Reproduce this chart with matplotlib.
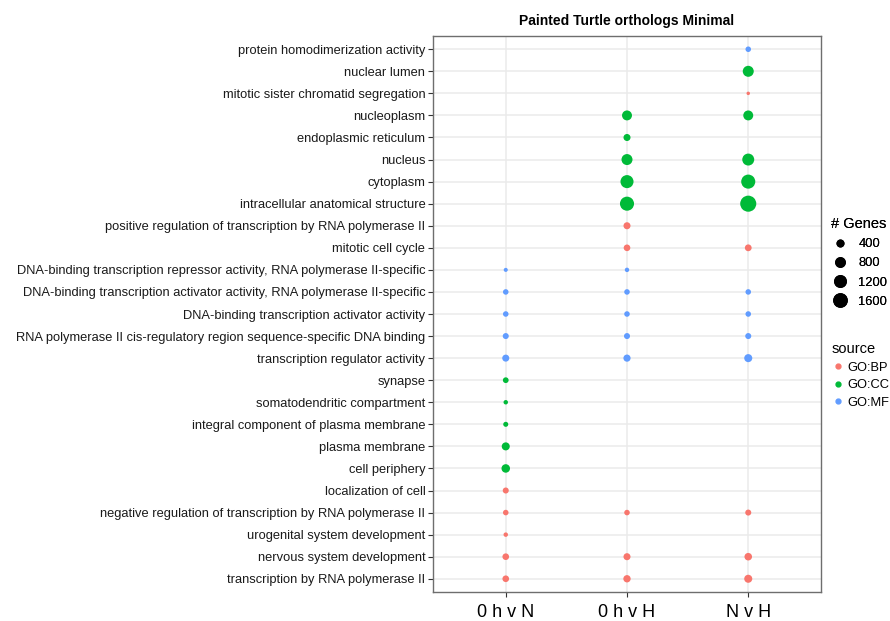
"""
GO enrichment dot plot - Painted Turtle orthologs
"""

import matplotlib.pyplot as plt
from matplotlib.lines import Line2D

plt.rcParams['font.family'] = ['Liberation Sans', 'DejaVu Sans']

# Terms, top to bottom
TERMS = [
    'protein homodimerization activity',
    'nuclear lumen',
    'mitotic sister chromatid segregation',
    'nucleoplasm',
    'endoplasmic reticulum',
    'nucleus',
    'cytoplasm',
    'intracellular anatomical structure',
    'positive regulation of transcription by RNA polymerase II',
    'mitotic cell cycle',
    'DNA-binding transcription repressor activity, RNA polymerase II-specific',
    'DNA-binding transcription activator activity, RNA polymerase II-specific',
    'DNA-binding transcription activator activity',
    'RNA polymerase II cis-regulatory region sequence-specific DNA binding',
    'transcription regulator activity',
    'synapse',
    'somatodendritic compartment',
    'integral component of plasma membrane',
    'plasma membrane',
    'cell periphery',
    'localization of cell',
    'negative regulation of transcription by RNA polymerase II',
    'urogenital system development',
    'nervous system development',
    'transcription by RNA polymerase II',
]

SOURCE = ['GO:MF', 'GO:CC', 'GO:BP', 'GO:CC', 'GO:CC', 'GO:CC', 'GO:CC', 'GO:CC',
          'GO:BP', 'GO:BP', 'GO:MF', 'GO:MF', 'GO:MF', 'GO:MF', 'GO:MF',
          'GO:CC', 'GO:CC', 'GO:CC', 'GO:CC', 'GO:CC',
          'GO:BP', 'GO:BP', 'GO:BP', 'GO:BP', 'GO:BP']

COMPARISONS = ['0 h v N', '0 h v H', 'N v H']

# Gene counts per term (None = not enriched)
GENES_0hvN = [None, None, None, None, None, None, None, None, None, None,
              150, 280, 280, 330, 450,
              300, 180, 230, 590, 660,
              330, 280, 180, 400, 400]
GENES_0hvH = [None, None, None, 900, 450, 1100, 1550, 1800, 450, 400,
              180, 280, 280, 330, 470,
              None, None, None, None, None,
              None, 280, None, 450, 490]
GENES_NvH = [280, 1100, 110, 900, None, 1300, 1800, 2350, None, 420,
             None, 280, 280, 330, 590,
             None, None, None, None, None,
             None, 330, None, 520, 590]

SIZE_LEVELS = [400, 800, 1200, 1600]
SOURCES = ['GO:BP', 'GO:CC', 'GO:MF']

COLORS = {'GO:BP': '#F8766D', 'GO:CC': '#00BA38', 'GO:MF': '#619CFF'}
SIZE_SCALE = 0.057  # marker area (pt^2) per gene


def main():
    fig = plt.figure(figsize=(8.9, 6.21), dpi=100)
    ax = fig.add_axes([433 / 890, 1 - 592 / 621, 388 / 890, 556 / 621])

    n = len(TERMS)
    for xi, counts in enumerate([GENES_0hvN, GENES_0hvH, GENES_NvH]):
        for i, (v, src) in enumerate(zip(counts, SOURCE)):
            if v is None:
                continue
            ax.scatter(xi, n - 1 - i, s=v * SIZE_SCALE, color=COLORS[src],
                       edgecolors='none', zorder=3)

    ax.set_xlim(-0.6, 2.6)
    ax.set_ylim(-0.6, n - 0.4)
    ax.set_xticks(range(len(COMPARISONS)))
    ax.set_xticklabels(COMPARISONS, fontsize=13)
    ax.set_yticks(range(n))
    ax.set_yticklabels(TERMS[::-1], fontsize=9.3, color='#1a1a1a')

    ax.grid(True, color='#ebebeb', linewidth=1.1, zorder=0)
    ax.set_axisbelow(True)
    for sp in ax.spines.values():
        sp.set_color('#6e6e6e')
        sp.set_linewidth(1.0)
    ax.tick_params(axis='both', length=3.5, width=0.8, color='#333333')
    ax.tick_params(axis='x', pad=5)
    ax.tick_params(axis='y', pad=2)

    ax.set_title('Painted Turtle orthologs Minimal', fontsize=10,
                 fontweight='bold', pad=8)

    # Size legend
    size_handles = [Line2D([], [], linestyle='none', marker='o', color='black',
                           markersize=(v * SIZE_SCALE) ** 0.5)
                    for v in SIZE_LEVELS]
    leg1 = fig.legend(size_handles, [str(v) for v in SIZE_LEVELS],
                      title='# Genes', loc='upper left',
                      bbox_to_anchor=(826 / 890, 1 - 212 / 621),
                      frameon=False, fontsize=9.3, title_fontsize=10.5,
                      handlelength=1.4, handletextpad=0.7, labelspacing=0.55,
                      alignment='left', borderaxespad=0)
    fig.add_artist(leg1)

    # Source legend
    src_handles = [Line2D([], [], linestyle='none', marker='o',
                          color=COLORS[s], markersize=3.5) for s in SOURCES]
    fig.legend(src_handles, SOURCES, title='source', loc='upper left',
               bbox_to_anchor=(824 / 890, 1 - 335 / 621),
               frameon=False, fontsize=9.3, title_fontsize=10.5,
               handlelength=1.0, handletextpad=0.25, labelspacing=0.42,
               alignment='left', borderaxespad=0, borderpad=0.55)

    plt.savefig('out.png', dpi=100, facecolor='white')
    plt.close()


if __name__ == "__main__":
    main()
